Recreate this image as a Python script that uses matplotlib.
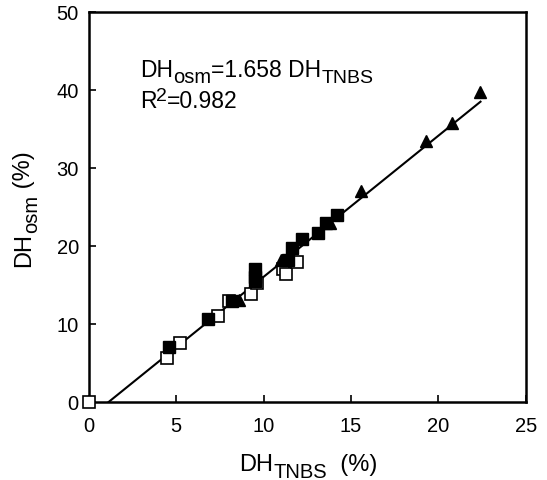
import matplotlib
matplotlib.use('Agg')
import matplotlib.pyplot as plt
from matplotlib.transforms import IdentityTransform

plt.rcParams['font.family'] = ['Liberation Sans', 'DejaVu Sans']

# open squares
open_x = [0.0, 4.5, 5.2, 7.4, 8.0, 9.3, 9.6, 11.1, 11.3, 11.9]
open_y = [0.0, 5.7, 7.6, 11.0, 13.0, 13.9, 15.2, 17.1, 16.4, 17.9]
# filled squares
sq_x = [4.6, 6.8, 8.2, 9.5, 9.5, 9.5, 11.4, 11.6, 12.2, 13.1, 13.6, 14.2]
sq_y = [7.0, 10.6, 13.0, 17.0, 16.0, 15.5, 18.2, 19.7, 20.9, 21.7, 22.9, 24.0]
# filled triangles
tri_x = [8.6, 11.0, 13.8, 15.6, 19.3, 20.8, 22.4]
tri_y = [13.1, 18.2, 22.9, 27.1, 33.5, 35.8, 39.8]
# regression line ends
fit_x = [1.15, 22.4]
fit_y = [0.0, 38.5]

ticks_x = [0, 5, 10, 15, 20, 25]
ticks_y = [0, 10, 20, 30, 40, 50]


def rich_text(fig, x, y, parts, rotation=0):
    # parts: (text, fontsize, rise in px); x, y in figure pixels
    r = fig.canvas.get_renderer()
    for s, size, rise in parts:
        if rotation == 0:
            t = fig.text(x, y + rise, s, fontsize=size, transform=IdentityTransform(),
                         ha='left', va='baseline')
            x += t.get_window_extent(r).width
        else:
            t = fig.text(x - rise, y, s, fontsize=size, transform=IdentityTransform(),
                         ha='left', va='baseline', rotation=90, rotation_mode='anchor')
            y += t.get_window_extent(r).height


fig = plt.figure(figsize=(5.47, 4.81), dpi=100)
ax = fig.add_axes([0.1618, 0.1622, 0.7998, 0.8108])

ax.plot(fit_x, fit_y, color='black', lw=1.5, zorder=2)
ax.plot(open_x, open_y, 's', ms=8, mfc='white', mec='black', mew=1.2, clip_on=False, zorder=3)
ax.plot(sq_x, sq_y, 's', ms=8, color='black', zorder=3)
ax.plot(tri_x, tri_y, '^', ms=8.5, color='black', zorder=3)

ax.set_xlim(0, 25)
ax.set_ylim(0, 50)
ax.set_xticks(ticks_x)
ax.set_yticks(ticks_y)
ax.tick_params(direction='in', length=5, width=1.2, labelsize=14.5)
ax.tick_params(axis='x', pad=10)
ax.tick_params(axis='y', pad=7)
for s in ax.spines.values():
    s.set_linewidth(1.8)

# equation
x0, y0 = ax.transData.transform((2.94, 41.8))
rich_text(fig, x0, y0, [('DH', 16.5, 0), ('osm', 14.5, -6.5), ('=1.658 DH', 16.5, 0), ('TNBS', 14, -6.5)])
x0, y0 = ax.transData.transform((2.94, 37.8))
rich_text(fig, x0, y0, [('R', 16.5, 0), ('2', 14, 7), ('=0.982', 16.5, 0)])

# axis labels
H = 481
rich_text(fig, 239, H - 471, [('DH', 17, 0), ('TNBS', 14.5, -7), ('  (%)', 17, 0)])
rich_text(fig, 30, H - 267, [('DH', 17, 0), ('osm', 14.5, -7), (' (%)', 17, 0)], rotation=90)

fig.savefig('out.png', dpi=100)
